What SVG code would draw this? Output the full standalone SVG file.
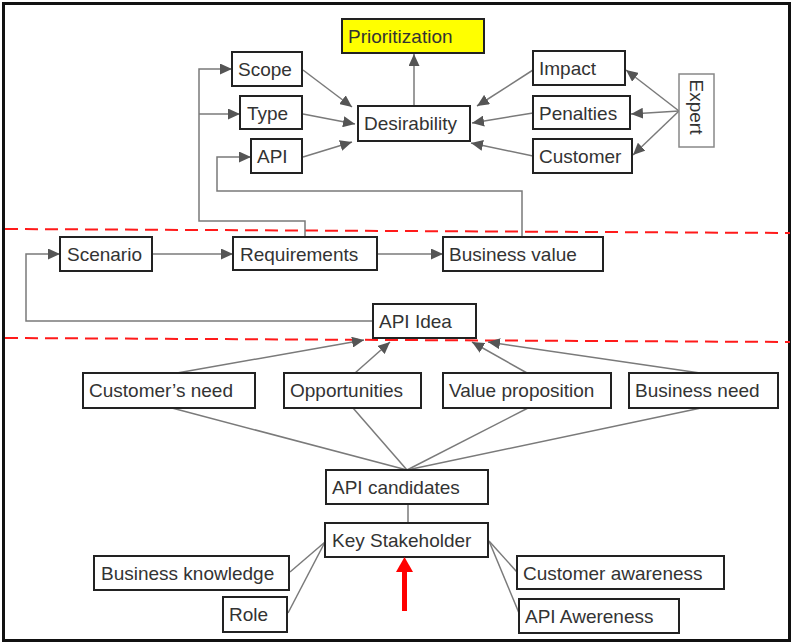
<svg xmlns="http://www.w3.org/2000/svg" width="793" height="644" viewBox="0 0 793 644">
<style>
.box{fill:#fff;stroke:#222;stroke-width:2}
.lbl{font-family:"Liberation Sans",Arial,sans-serif;font-size:19px;fill:#333}
.c{fill:none;stroke:#7a7a7a;stroke-width:1.5}
.a{marker-end:url(#ah)}
.sep{stroke:#ff1a1a;stroke-width:2;stroke-dasharray:13 7;fill:none}
</style>
<defs>
<marker id="ah" markerUnits="userSpaceOnUse" markerWidth="13" markerHeight="11" refX="12" refY="5.5" orient="auto">
<path d="M0,0 L12,5.5 L0,11 z" fill="#555"/>
</marker>
</defs>
<rect x="0" y="0" width="793" height="644" fill="#fff"/>
<rect x="3.5" y="3.5" width="786" height="637" fill="none" stroke="#111" stroke-width="3"/>

<line class="sep" x1="5" y1="229" x2="790" y2="233"/>
<line class="sep" x1="5" y1="338" x2="790" y2="342"/>

<g id="connectors">
<line class="c a" x1="303" y1="70" x2="352" y2="107"/>
<line class="c a" x1="303" y1="114" x2="355" y2="124"/>
<line class="c a" x1="303" y1="157" x2="352" y2="142"/>
<line class="c a" x1="414" y1="106" x2="414" y2="54"/>
<line class="c a" x1="533" y1="70" x2="477" y2="106"/>
<line class="c a" x1="533" y1="113" x2="472" y2="123"/>
<line class="c a" x1="533" y1="156" x2="471" y2="143"/>
<line class="c a" x1="679" y1="111" x2="626" y2="70"/>
<line class="c a" x1="679" y1="111" x2="631" y2="114"/>
<line class="c a" x1="679" y1="111" x2="633" y2="155"/>
<path class="c a" d="M305,237 V221 H199 V69 H232"/>
<path class="c a" d="M199,114 H240"/>
<path class="c a" d="M522,237 V191 H217 V157 H251"/>
<line class="c a" x1="152" y1="254" x2="233" y2="254"/>
<line class="c a" x1="377" y1="254" x2="443" y2="254"/>
<path class="c a" d="M373,321 H26 V254 H60"/>
<line class="c a" x1="177" y1="373" x2="364" y2="340"/>
<line class="c a" x1="355" y1="373" x2="390" y2="342"/>
<line class="c a" x1="527" y1="373" x2="472" y2="342"/>
<line class="c a" x1="700" y1="373" x2="488" y2="342"/>
<line class="c" x1="172" y1="408" x2="407" y2="470"/>
<line class="c" x1="353" y1="408" x2="407" y2="470"/>
<line class="c" x1="528" y1="408" x2="407" y2="470"/>
<line class="c" x1="701" y1="408" x2="407" y2="470"/>
<line class="c" x1="408" y1="504" x2="408" y2="523"/>
<line class="c" x1="325" y1="542" x2="290" y2="572"/>
<line class="c" x1="325" y1="542" x2="288" y2="613"/>
<line class="c" x1="489" y1="541" x2="517" y2="572"/>
<line class="c" x1="489" y1="541" x2="519" y2="613"/>
</g>

<g id="prioritization"><rect x="342" y="19" width="142" height="34" fill="#ffff00" stroke="#222" stroke-width="2"/><text class="lbl" x="348" y="43">Prioritization</text></g>
<g id="scope"><rect class="box" x="232" y="52" width="70" height="34"/><text class="lbl" x="238" y="76">Scope</text></g>
<g id="type"><rect class="box" x="240" y="96" width="62" height="33"/><text class="lbl" x="247" y="120">Type</text></g>
<g id="api"><rect class="box" x="251" y="139" width="51" height="34"/><text class="lbl" x="257" y="163">API</text></g>
<g id="desirability"><rect class="box" x="358" y="106" width="112" height="35"/><text class="lbl" x="364" y="130">Desirability</text></g>
<g id="impact"><rect class="box" x="533" y="51" width="92" height="34"/><text class="lbl" x="539" y="75">Impact</text></g>
<g id="penalties"><rect class="box" x="533" y="96" width="97" height="33"/><text class="lbl" x="539" y="120">Penalties</text></g>
<g id="customer"><rect class="box" x="533" y="139" width="99" height="34"/><text class="lbl" x="539" y="163">Customer</text></g>
<g id="expert"><rect x="679" y="74" width="35" height="73" fill="#fff" stroke="#888" stroke-width="1.5"/><text class="lbl" text-anchor="middle" transform="translate(689.5,107) rotate(90)">Expert</text></g>
<g id="scenario"><rect class="box" x="60" y="237" width="92" height="34"/><text class="lbl" x="67" y="261">Scenario</text></g>
<g id="requirements"><rect class="box" x="233" y="237" width="144" height="33"/><text class="lbl" x="240" y="261">Requirements</text></g>
<g id="business-value"><rect class="box" x="443" y="237" width="160" height="34"/><text class="lbl" x="449" y="261">Business value</text></g>
<g id="api-idea"><rect class="box" x="373" y="304" width="103" height="34"/><text class="lbl" x="379" y="328">API Idea</text></g>
<g id="customers-need"><rect class="box" x="83" y="373" width="172" height="35"/><text class="lbl" x="89" y="397">Customer’s need</text></g>
<g id="opportunities"><rect class="box" x="284" y="373" width="137" height="35"/><text class="lbl" x="290" y="397">Opportunities</text></g>
<g id="value-proposition"><rect class="box" x="443" y="373" width="168" height="35"/><text class="lbl" x="449" y="397">Value proposition</text></g>
<g id="business-need"><rect class="box" x="629" y="373" width="149" height="35"/><text class="lbl" x="635" y="397">Business need</text></g>
<g id="api-candidates"><rect class="box" x="326" y="470" width="162" height="34"/><text class="lbl" x="332" y="494">API candidates</text></g>
<g id="key-stakeholder"><rect class="box" x="325" y="523" width="163" height="34"/><text class="lbl" x="332" y="547">Key Stakeholder</text></g>
<g id="business-knowledge"><rect class="box" x="94" y="556" width="195" height="34"/><text class="lbl" x="101" y="580">Business knowledge</text></g>
<g id="role"><rect class="box" x="223" y="597" width="64" height="35"/><text class="lbl" x="229" y="621">Role</text></g>
<g id="customer-awareness"><rect class="box" x="517" y="556" width="207" height="33"/><text class="lbl" x="523" y="580">Customer awareness</text></g>
<g id="api-awereness"><rect class="box" x="519" y="599" width="160" height="34"/><text class="lbl" x="525" y="623">API Awereness</text></g>

<g id="red-arrow">
<line x1="404.5" y1="611" x2="404.5" y2="570" stroke="#ff0000" stroke-width="5"/>
<polygon points="396,572 413,572 404.5,557" fill="#ff0000"/>
</g>
</svg>
